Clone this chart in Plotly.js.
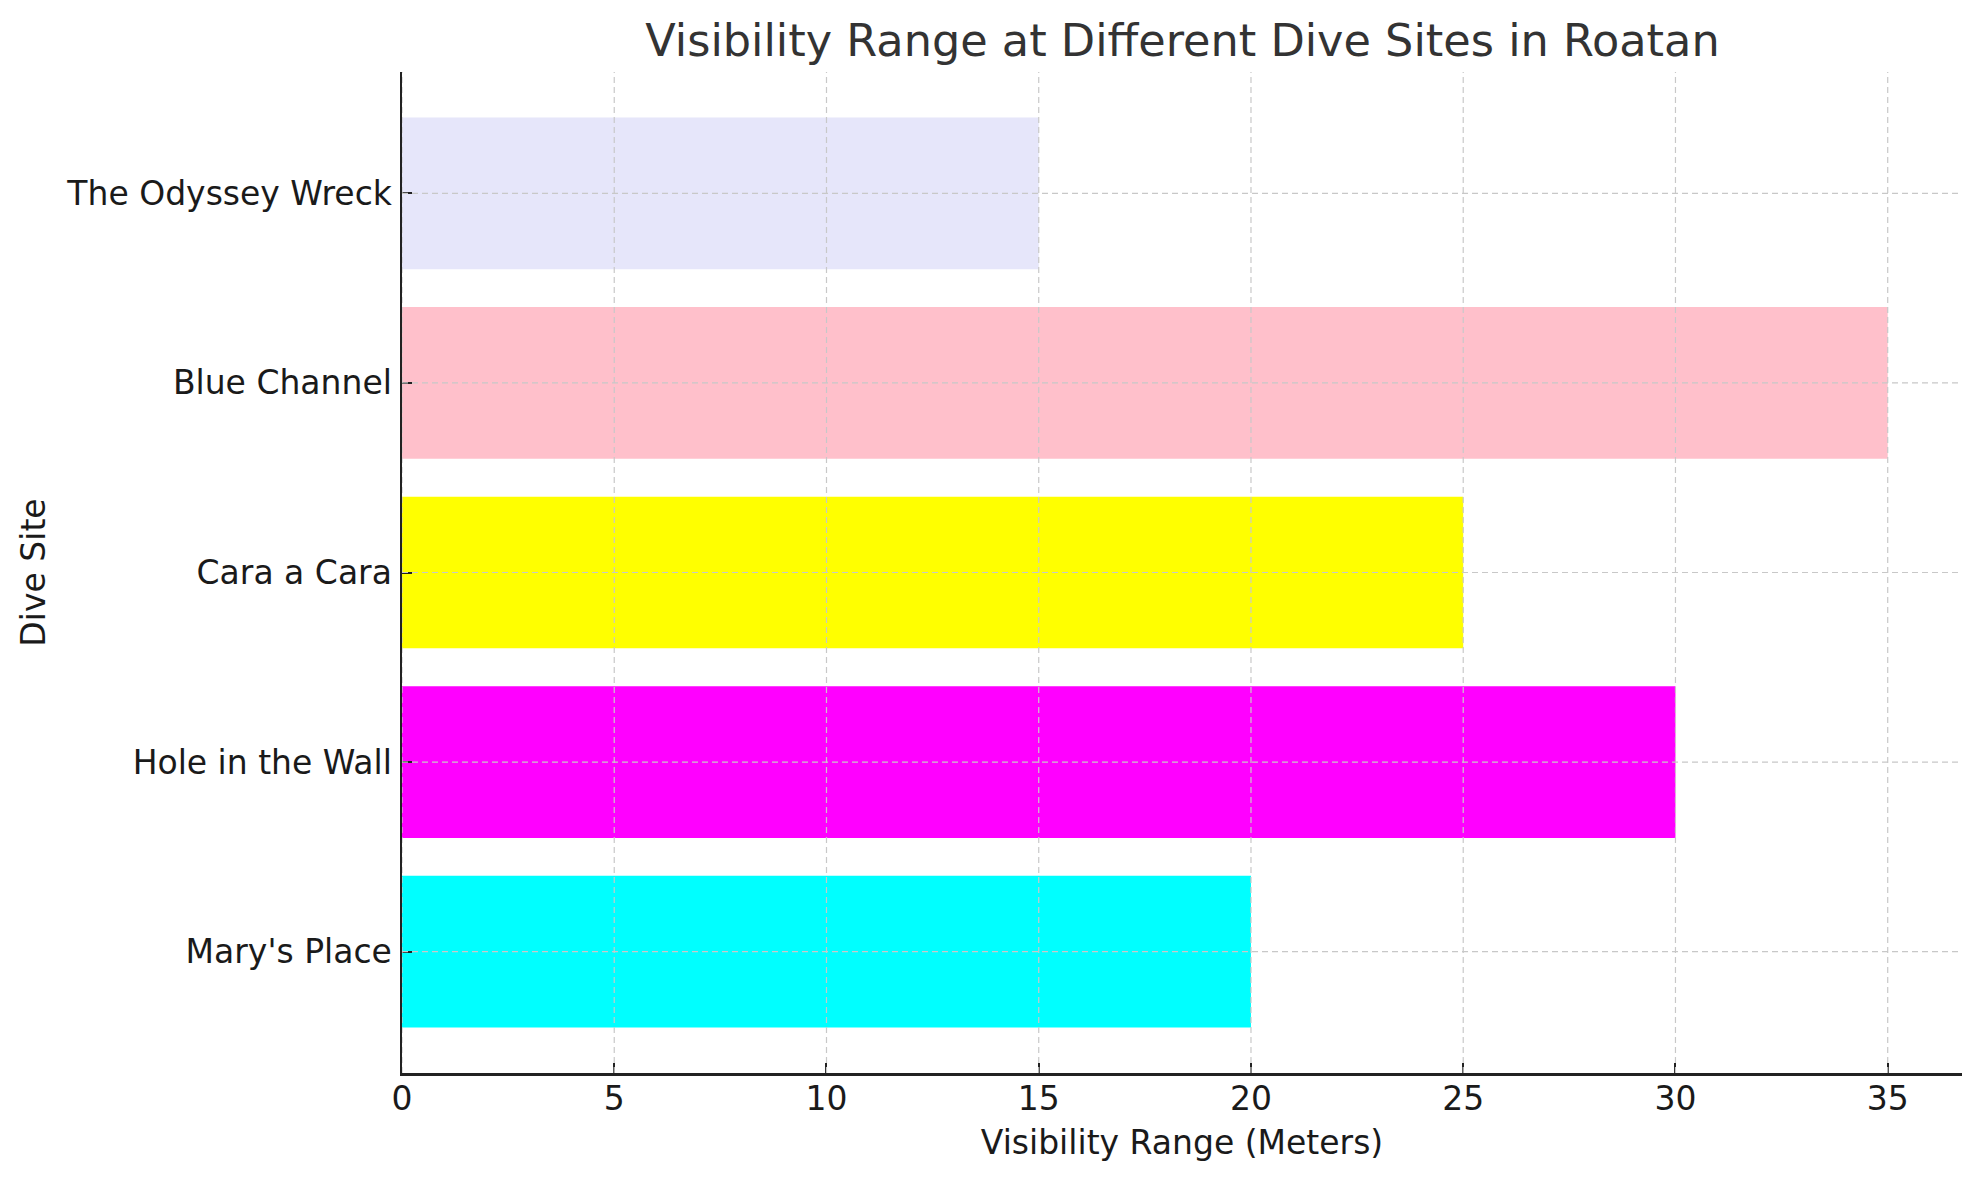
<!DOCTYPE html>
<html>
<head>
<meta charset="utf-8">
<script src="https://cdn.plot.ly/plotly-3.0.1.min.js"></script>
<style>html,body{margin:0;padding:0;background:#fff;}#chart{width:1979px;height:1180px;}</style>
</head>
<body>
<div id="chart"></div>
<script>
const sites = ["Mary's Place", "Hole in the Wall", "Cara a Cara", "Blue Channel", "The Odyssey Wreck"];
const visibility = [20, 30, 25, 35, 15];
const barColors = ["#00FFFF", "#FF00FF", "#FFFF00", "#FFC0CB", "#E6E6FA"];
const xTicks = [0, 5, 10, 15, 20, 25, 30, 35];

const FONT = "DejaVu Sans, sans-serif";
const gridStyle = {color: "#c8c8c8", width: 1.2, dash: "6px,4px"};

const trace = {
  type: "bar",
  orientation: "h",
  y: sites.map((s, i) => i),
  x: visibility,
  width: 0.8,
  marker: {color: barColors, line: {width: 0}},
  hoverinfo: "x+y"
};

// grid lines drawn above bars (as in reference)
const shapes = [];
xTicks.forEach(v => shapes.push({type: "line", layer: "above", xref: "x", yref: "paper", x0: v, x1: v, y0: 0, y1: 1, line: gridStyle}));
sites.forEach((s, i) => shapes.push({type: "line", layer: "above", xref: "paper", yref: "y", x0: 0, x1: 1, y0: i, y1: i, line: gridStyle}));

const layout = {
  width: 1979, height: 1180,
  margin: {l: 402, r: 17, t: 72, b: 107},
  paper_bgcolor: "#fff", plot_bgcolor: "#fff",
  font: {family: FONT, size: 33, color: "#1a1a1a"},
  showlegend: false,
  title: {text: "Visibility Range at Different Dive Sites in Roatan", font: {family: FONT, size: 44.6, color: "#333333"},
          x: 0.5975, xanchor: "center", y: 1 - 40/1180, yanchor: "middle", yref: "container"},
  xaxis: {
    range: [0, 36.75], tickvals: xTicks, ticktext: xTicks.map(String),
    showgrid: false, zeroline: false,
    showline: true, linecolor: "#222", linewidth: 2.5,
    ticks: "inside", ticklen: 10, tickwidth: 2, tickcolor: "#222",
    ticklabelstandoff: -5,
    tickfont: {family: FONT, size: 33, color: "#1a1a1a"},
    title: {text: "Visibility Range (Meters)", font: {family: FONT, size: 33, color: "#1a1a1a"}, standoff: 14},
    fixedrange: true
  },
  yaxis: {
    range: [-0.64, 4.64], tickvals: sites.map((s, i) => i), ticktext: sites,
    showgrid: false, zeroline: false,
    showline: true, linecolor: "#222", linewidth: 2.5,
    ticks: "inside", ticklen: 10, tickwidth: 2, tickcolor: "#222",
    ticklabelstandoff: 1,
    tickfont: {family: FONT, size: 33, color: "#1a1a1a"},
    title: {text: "Dive Site", font: {family: FONT, size: 33, color: "#1a1a1a"}, standoff: 11},
    fixedrange: true
  },
  shapes: shapes,
  bargap: 0.2
};

Plotly.newPlot("chart", [trace], layout, {displayModeBar: false, staticPlot: true});
</script>
</body>
</html>
